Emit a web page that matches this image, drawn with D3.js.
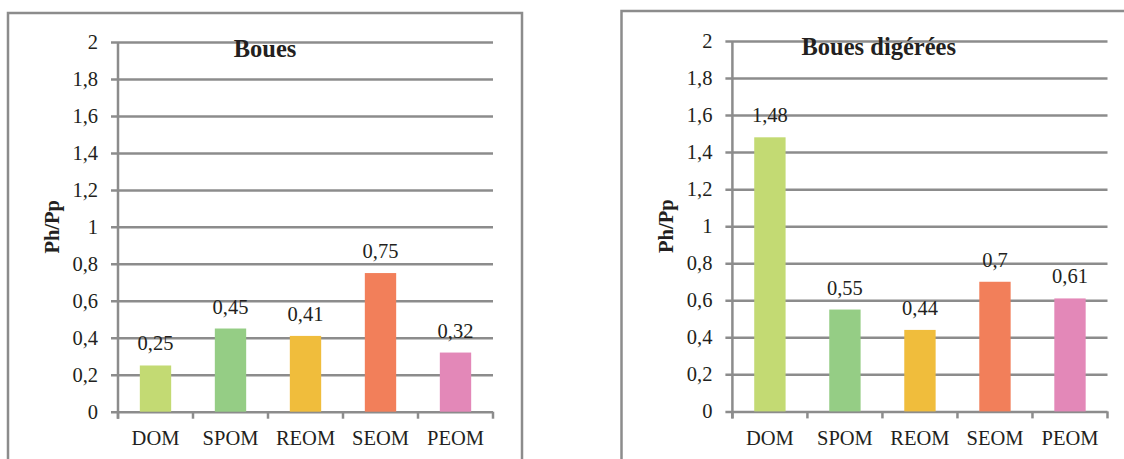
<!DOCTYPE html>
<html>
<head>
<meta charset="utf-8">
<script src="https://cdn.jsdelivr.net/npm/d3@7"></script>
<style>
  html, body { margin: 0; padding: 0; background: #fff; }
  svg { display: block; }
</style>
</head>
<body>
<svg id="chart" width="1124" height="459"></svg>
<script>
// ---- data ----
const categories = ["DOM", "SPOM", "REOM", "SEOM", "PEOM"];
const bouesValues = [0.25, 0.45, 0.41, 0.75, 0.32];
const digereesValues = [1.48, 0.55, 0.44, 0.70, 0.61];
const yTicks = [0, 0.2, 0.4, 0.6, 0.8, 1, 1.2, 1.4, 1.6, 1.8, 2];
const colors = ["#c3da73", "#95cd85", "#f0bd3c", "#f27f5a", "#e388b8"];
const titles = ["Boues", "Boues digérées"];
const yTitle = "Ph/Pp";

const fr = d3.formatLocale({decimal: ",", thousands: " ", grouping: [3], currency: ["", "€"]});
const fmt = fr.format("~g");

const svg = d3.select("#chart");
const gridColor = "#8c8c8c";
const textColor = "#231f20";

// pick an installed serif font (Times-like)
function pickFont() {
  const candidates = ["Liberation Serif", "Times New Roman", "Tinos", "DejaVu Serif", "Noto Serif"];
  const t = svg.append("text").attr("font-size", 40).text("DOMWil1,8");
  t.style("font-family", "monospace");
  const base = t.node().getComputedTextLength();
  let found = "serif";
  for (const c of candidates) {
    t.style("font-family", `"${c}", monospace`);
    if (Math.abs(t.node().getComputedTextLength() - base) > 0.5) { found = `"${c}", serif`; break; }
  }
  t.remove();
  return found;
}
const FONT = pickFont();

function styleText(sel, size, weight) {
  sel.style("font-family", FONT).style("font-size", size + "px")
     .style("font-weight", weight || "normal").style("fill", textColor);
}

function drawChart(cfg, title, values) {
  const g = svg.append("g");
  // frame
  g.append("rect")
    .attr("x", cfg.fx).attr("y", cfg.fy)
    .attr("width", cfg.fw).attr("height", 600)
    .attr("fill", "none").attr("stroke", gridColor).attr("stroke-width", 2.5);

  const x = d3.scaleBand().domain(categories).range([cfg.x0, cfg.x1]).padding(0);
  const y = d3.scaleLinear().domain([0, 2]).range([cfg.yb, cfg.yt]);
  const plotW = cfg.x1 - cfg.x0;

  // y axis with gridlines
  const ya = g.append("g").attr("transform", `translate(${cfg.x0},0)`)
    .call(d3.axisLeft(y).tickValues(yTicks).tickFormat(fmt)
      .tickSizeInner(-plotW).tickSizeOuter(0).tickPadding(20));
  ya.select(".domain").remove();
  ya.selectAll(".tick line")
    .attr("x1", -7).attr("x2", plotW)
    .attr("stroke", gridColor).attr("stroke-width", 2.5);
  styleText(ya.selectAll(".tick text"), 20.5);

  // vertical axis line
  g.append("line")
    .attr("x1", cfg.x0).attr("x2", cfg.x0)
    .attr("y1", y(2)).attr("y2", cfg.yb + 7)
    .attr("stroke", gridColor).attr("stroke-width", 2.5);

  // x axis tick marks at band boundaries
  const bounds = categories.map(c => x(c)).concat([cfg.x1]);
  g.selectAll(".xtick").data(bounds).enter().append("line")
    .attr("x1", d => d).attr("x2", d => d)
    .attr("y1", cfg.yb).attr("y2", cfg.yb + 7)
    .attr("stroke", gridColor).attr("stroke-width", 2.5);

  // category labels
  const xa = g.append("g").attr("transform", `translate(0,${cfg.yb})`)
    .call(d3.axisBottom(x).tickSize(0).tickPadding(19));
  xa.select(".domain").remove();
  styleText(xa.selectAll(".tick text"), 20.5);

  // bars
  const bw = x.bandwidth() * 0.418;
  g.selectAll(".bar").data(values).enter().append("rect")
    .attr("x", (d, i) => x(categories[i]) + (x.bandwidth() - bw) / 2)
    .attr("y", d => y(d))
    .attr("width", bw)
    .attr("height", d => y(0) - y(d))
    .attr("fill", (d, i) => colors[i]);

  // value labels
  styleText(g.selectAll(".val").data(values).enter().append("text")
    .attr("x", (d, i) => x(categories[i]) + x.bandwidth() / 2)
    .attr("y", d => y(d) - 15)
    .attr("text-anchor", "middle")
    .text(d => fmt(d)), 20.5);

  // title
  styleText(g.append("text")
    .attr("x", cfg.fx + cfg.fw / 2)
    .attr("y", cfg.ty)
    .attr("text-anchor", "middle")
    .text(title), 24.5, "bold");

  // y axis title
  styleText(g.append("text")
    .attr("transform", `translate(${cfg.x0 - 59},${(cfg.yt + cfg.yb) / 2}) rotate(-90)`)
    .attr("text-anchor", "middle")
    .text(yTitle), 20.5, "bold");
}

drawChart({fx: 8, fy: 13, fw: 514, x0: 118, x1: 493, yt: 42, yb: 411.7, ty: 57}, titles[0], bouesValues);
drawChart({fx: 621.5, fy: 11, fw: 514.5, x0: 732.4, x1: 1107.5, yt: 41, yb: 411.4, ty: 55}, titles[1], digereesValues);
</script>
</body>
</html>
